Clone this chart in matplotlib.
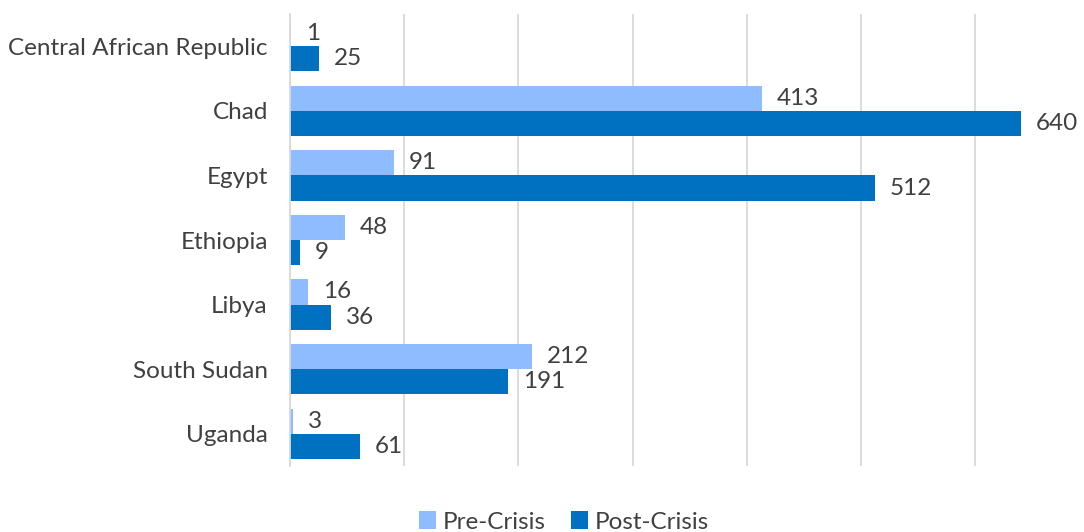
import numpy as np
import matplotlib
matplotlib.use("Agg")
import matplotlib.pyplot as plt

#------------------------------------------------------------------
#   DATA
#------------------------------------------------------------------
countries = ["Central African Republic", "Chad", "Egypt", "Ethiopia",
             "Libya", "South Sudan", "Uganda"]
pre_crisis = [1, 413, 91, 48, 16, 212, 3]
post_crisis = [25, 640, 512, 9, 36, 191, 61]

#------------------------------------------------------------------
#   STYLE
#------------------------------------------------------------------
c_pre = "#8FBCFF"
c_post = "#0070C0"
c_text = "#404040"
plt.rcParams['font.family'] = ['Lato', 'DejaVu Sans']
fs = 17.5

#------------------------------------------------------------------
#   PLOTTING
#------------------------------------------------------------------
fig = plt.figure(figsize=(10.84, 5.32), dpi=100)
ax = fig.add_axes([290/1084, 1-466/532, (1084-290)/1084, (466-14)/532])

y = np.arange(len(countries))
h = 0.39
b1 = ax.barh(y - h/2, pre_crisis, height=h, color=c_pre, label="Pre-Crisis")
b2 = ax.barh(y + h/2, post_crisis, height=h, color=c_post, label="Post-Crisis")

for bars in (b1, b2):
    for r in bars:
        w = r.get_width()
        ax.text(w + 13, r.get_y() + r.get_height()/2, "%d" % w,
                va='center', ha='left', fontsize=fs, color=c_text)

ax.set_xlim(0, 695)
ax.set_ylim(len(countries) - 0.5, -0.5)
ax.set_xticks(np.arange(0, 700, 100))
ax.xaxis.grid(True, color="#D9D9D9", linewidth=1.3)
ax.set_axisbelow(True)
ax.tick_params(axis='x', length=0, labelbottom=False)
ax.tick_params(axis='y', length=0, labelsize=fs, labelcolor=c_text, pad=16)
ax.set_yticks(y)
ax.set_yticklabels(countries)
for s in ('top', 'right', 'bottom'):
    ax.spines[s].set_visible(False)
ax.spines['left'].set_color("#D9D9D9")
ax.spines['left'].set_linewidth(1.3)

leg = fig.legend(loc='center', bbox_to_anchor=(564/1084, 1-522/532), ncol=2,
                 frameon=False, fontsize=fs, handlelength=0.7, handleheight=0.7,
                 handletextpad=0.3, columnspacing=1.0)
for t in leg.get_texts():
    t.set_color(c_text)

fig.savefig("out.png", dpi=100)
